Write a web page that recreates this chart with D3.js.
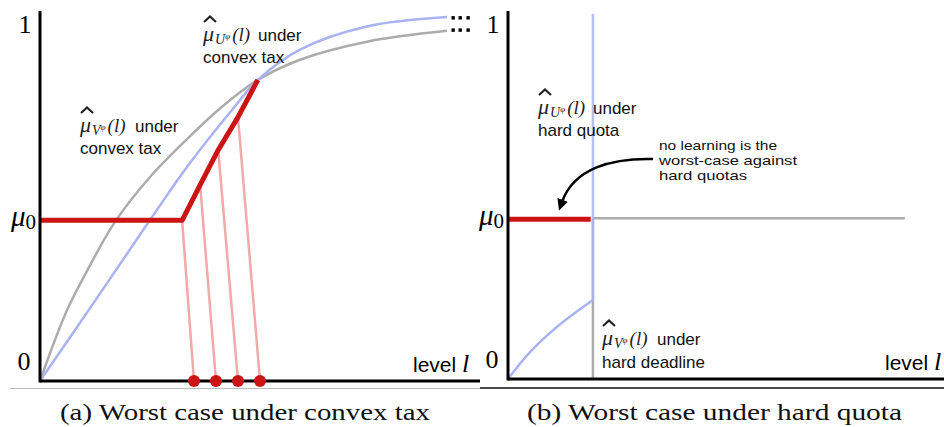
<!DOCTYPE html>
<html>
<head>
<meta charset="utf-8">
<script src="https://cdn.jsdelivr.net/npm/d3@7"></script>
<style>
  html, body { margin: 0; padding: 0; background: #fff; }
  svg { display: block; }
</style>
</head>
<body>
<script>
const W = 944, H = 427;

// belief level mu0 shared by both panels
const mu0 = 0.445;

// (a) convex tax: [level, value]
const uConvex = [[0, 0], [1.25, 0.222], [2.5, 0.446], [3.34, 0.593], [4.39, 0.755], [4.95, 0.834],
  [5.91, 0.918], [7.43, 0.982], [9.25, 1.008]];
const vConvex = [[0, 0], [0.61, 0.195], [1.07, 0.305], [1.70, 0.440], [2.5, 0.565], [3.34, 0.670],
  [4.09, 0.755], [4.95, 0.834], [5.91, 0.890], [7.43, 0.940], [9.25, 0.970]];
const worstPath = [[0, mu0], [3.23, mu0], [3.64, 0.543], [4.05, 0.640], [4.50, 0.731], [4.95, 0.834]];
const dotLevels = [3.50, 4.00, 4.50, 5.00];
const ellipsisLevels = [9.39, 9.55, 9.73];
const ellipsisValues = [1.006, 0.972];

// (b) hard quota
const quotaLevel = 1.93;
const uQuotaRamp = [[0, 0], [0.5, 0.075], [1.11, 0.145], [1.93, 0.22]];
const uQuotaTop = 1.017;
const vDeadlineEnd = 9.02;
const worstQuotaEnd = 1.88;

const yTicks = ['0', '1'];
const captions = ['(a) Worst case under convex tax', '(b) Worst case under hard quota'];
const noteLines = ['no learning is the', 'worst-case against', 'hard quotas'];

const blue = '#aab3f2', grey = '#acacac', red = '#cc1414', pink = '#f1a9a9';
const sans = 'Liberation Sans, Arial, sans-serif';
const serif = 'Liberation Serif, DejaVu Serif, serif';

const svg = d3.select('body').append('svg')
  .attr('width', W)
  .attr('height', H);

const xA = d3.scaleLinear().domain([0, 10]).range([40, 480]);
const yA = d3.scaleLinear().domain([0, 1]).range([381, 20]);
const xB = d3.scaleLinear().domain([0, 10]).range([508, 948]);
const yB = d3.scaleLinear().domain([0, 1]).range([379, 20]);

const line = (x, y) => d3.line().x(d => x(d[0])).y(d => y(d[1])).curve(d3.curveCatmullRom.alpha(0.5));

// mu-hat label: hat, italic mu, subscript letter with phi, (l), then "under"
function muLabel(g, x, y, letter) {
  const t = g.append('text')
    .attr('x', x).attr('y', y)
    .attr('font-family', serif)
    .attr('font-style', 'italic')
    .attr('fill', '#222');
  t.append('tspan').attr('font-size', 22).text('μ');
  t.append('tspan').attr('font-size', 14).attr('dy', 3).attr('dx', 1).text(letter);
  t.append('tspan').attr('font-size', 9).attr('dy', -5).text('φ');
  t.append('tspan').attr('font-size', 19).attr('dy', 2).attr('dx', 2).text('(l)');
  g.append('path')
    .attr('d', `M${x + 1},${y - 19} L${x + 7},${y - 24.5} L${x + 13},${y - 19}`)
    .attr('fill', 'none').attr('stroke', '#222').attr('stroke-width', 2.2);
  plainText(g, x + 55, y, 'under');
}

function plainText(g, x, y, s, size) {
  g.append('text')
    .attr('x', x).attr('y', y)
    .attr('font-family', sans).attr('font-size', size || 17).attr('fill', '#111')
    .text(s);
}

function yLabels(g, x, y, xr) {
  g.append('text').attr('x', xr - 15).attr('y', y(1) + 13)
    .attr('text-anchor', 'middle').attr('font-family', serif).attr('font-size', 26)
    .text(yTicks[1]);
  g.append('text').attr('x', xr - 16).attr('y', y(0) - 11)
    .attr('text-anchor', 'middle').attr('font-family', serif).attr('font-size', 26)
    .text(yTicks[0]);
  const m = g.append('text').attr('x', xr - 29).attr('y', y(mu0) + 6)
    .attr('font-family', serif).attr('font-style', 'italic');
  m.append('tspan').attr('font-size', 29).text('μ');
  m.append('tspan').attr('font-size', 21).attr('dy', 3).attr('font-style', 'normal').text('0');
}

function levelLabel(g, x, y) {
  const t = g.append('text').attr('x', x).attr('y', y);
  t.append('tspan').attr('font-family', sans).attr('font-size', 21).text('level ');
  t.append('tspan').attr('font-family', serif).attr('font-style', 'italic').attr('font-size', 26).text('l');
}

// ---------- panel (a) ----------
const ga = svg.append('g');

ga.append('path').datum(vConvex)
  .attr('d', line(xA, yA)).attr('fill', 'none').attr('stroke', grey).attr('stroke-width', 2.5);
ga.append('path').datum(uConvex)
  .attr('d', line(xA, yA)).attr('fill', 'none').attr('stroke', blue).attr('stroke-width', 2.5);

// projections of the worst-case path onto the level axis
ga.selectAll('line.proj')
  .data(dotLevels)
  .enter().append('line')
  .attr('class', 'proj')
  .attr('x1', (d, i) => xA(worstPath[i + 1][0]))
  .attr('y1', (d, i) => yA(worstPath[i + 1][1]))
  .attr('x2', d => xA(d))
  .attr('y2', yA(0))
  .attr('stroke', pink).attr('stroke-width', 2.5);

ga.append('path').datum(worstPath)
  .attr('d', d3.line().x(d => xA(d[0])).y(d => yA(d[1])))
  .attr('fill', 'none').attr('stroke', red).attr('stroke-width', 5)
  .attr('stroke-linejoin', 'round');

// axes
ga.append('line').attr('x1', xA(0)).attr('x2', xA(0)).attr('y1', yA(1.025)).attr('y2', yA(0) + 1.5)
  .attr('stroke', '#000').attr('stroke-width', 3);
ga.append('line').attr('x1', xA(0)).attr('x2', xA(10)).attr('y1', yA(0)).attr('y2', yA(0))
  .attr('stroke', '#000').attr('stroke-width', 3);

ga.selectAll('circle.dot')
  .data(dotLevels)
  .enter().append('circle')
  .attr('class', 'dot')
  .attr('cx', d => xA(d)).attr('cy', yA(0)).attr('r', 6)
  .attr('fill', red);

ellipsisValues.forEach(v => {
  ga.selectAll(null).data(ellipsisLevels).enter().append('rect')
    .attr('x', d => xA(d) - 1.7).attr('y', yA(v) - 1.7)
    .attr('width', 3.4).attr('height', 3.4).attr('fill', '#000');
});

yLabels(ga, xA, yA, xA(0));
levelLabel(ga, 413, 372);

muLabel(ga, 203, 41, 'U');
plainText(ga, 203, 63, 'convex tax');
muLabel(ga, 80, 132, 'V');
plainText(ga, 80, 154, 'convex tax');

// ---------- panel (b) ----------
const gb = svg.append('g');

gb.append('line')
  .attr('x1', xB(quotaLevel)).attr('x2', xB(vDeadlineEnd))
  .attr('y1', yB(mu0) - 1).attr('y2', yB(mu0) - 1)
  .attr('stroke', grey).attr('stroke-width', 2.5);
gb.append('line')
  .attr('x1', xB(quotaLevel)).attr('x2', xB(quotaLevel))
  .attr('y1', yB(mu0) - 1).attr('y2', yB(0) - 1)
  .attr('stroke', grey).attr('stroke-width', 2.5);

gb.append('path').datum(uQuotaRamp)
  .attr('d', line(xB, yB)).attr('fill', 'none').attr('stroke', blue).attr('stroke-width', 2.5);
gb.append('line')
  .attr('x1', xB(quotaLevel)).attr('x2', xB(quotaLevel))
  .attr('y1', yB(uQuotaRamp[uQuotaRamp.length - 1][1])).attr('y2', yB(uQuotaTop))
  .attr('stroke', blue).attr('stroke-width', 2.5).attr('stroke-opacity', 0.85);

gb.append('line')
  .attr('x1', xB(0)).attr('x2', xB(worstQuotaEnd))
  .attr('y1', yB(mu0)).attr('y2', yB(mu0))
  .attr('stroke', red).attr('stroke-width', 5);

gb.append('line').attr('x1', xB(0)).attr('x2', xB(0)).attr('y1', yB(1.025)).attr('y2', yB(0) + 1.5)
  .attr('stroke', '#000').attr('stroke-width', 3);
gb.append('line').attr('x1', xB(0)).attr('x2', W).attr('y1', yB(0)).attr('y2', yB(0))
  .attr('stroke', '#000').attr('stroke-width', 3);

yLabels(gb, xB, yB, xB(0));
levelLabel(gb, 885, 370);

muLabel(gb, 538, 114, 'U');
plainText(gb, 538, 136, 'hard quota');
muLabel(gb, 602, 345, 'V');
plainText(gb, 602, 368, 'hard deadline');

noteLines.forEach((s, i) => {
  gb.append('text')
    .attr('x', 659).attr('y', 150 + i * 15)
    .attr('font-family', sans).attr('font-size', 13).attr('fill', '#111')
    .attr('textLength', [118, 138, 88][i]).attr('lengthAdjust', 'spacingAndGlyphs')
    .text(s);
});

svg.append('defs').append('marker')
  .attr('id', 'head')
  .attr('viewBox', '0 0 10 10')
  .attr('refX', 2).attr('refY', 5)
  .attr('markerWidth', 4.5).attr('markerHeight', 4.5)
  .attr('orient', 'auto')
  .append('path').attr('d', 'M0,0 L10,5 L0,10 Z').attr('fill', '#000');

gb.append('path')
  .attr('d', 'M653,159 C612,158 574,168 562,202')
  .attr('fill', 'none').attr('stroke', '#000').attr('stroke-width', 2.5)
  .attr('marker-end', 'url(#head)');

// ---------- captions ----------
svg.append('line').attr('x1', 10).attr('x2', 480).attr('y1', 388.5).attr('y2', 388.5)
  .attr('stroke', '#bbb').attr('stroke-width', 1);
svg.append('line').attr('x1', 480).attr('x2', W).attr('y1', 388).attr('y2', 388)
  .attr('stroke', '#111').attr('stroke-width', 1.5);

const capX = [[60, 370], [527, 375]];
svg.selectAll('text.caption')
  .data(captions)
  .enter().append('text')
  .attr('class', 'caption')
  .attr('x', (d, i) => capX[i][0])
  .attr('y', 420)
  .attr('font-family', serif)
  .attr('font-size', 24)
  .attr('textLength', (d, i) => capX[i][1])
  .attr('lengthAdjust', 'spacingAndGlyphs')
  .attr('fill', '#111')
  .text(d => d);
</script>
</body>
</html>
